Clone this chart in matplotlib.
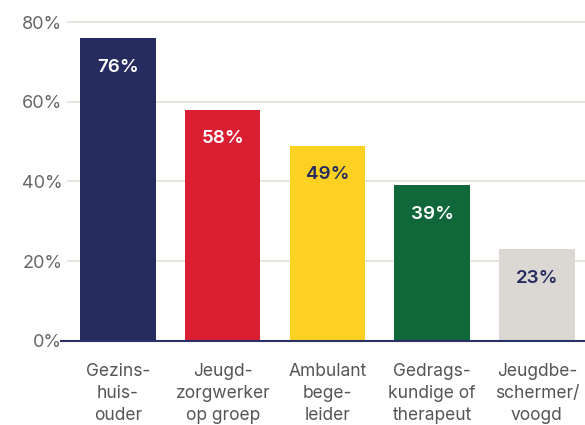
import matplotlib.pyplot as plt

# data
categories = ["Gezins-\nhuis-\nouder", "Jeugd-\nzorgwerker\nop groep", "Ambulant\nbege-\nleider",
              "Gedrags-\nkundige of\ntherapeut", "Jeugdbe-\nschermer/\nvoogd"]
values = [76, 58, 49, 39, 23]
bar_colors = ["#262c5f", "#da1f33", "#fdd121", "#10673a", "#dbd7d2"]
label_colors = ["white", "white", "#262c5f", "white", "#262c5f"]
yticks = [0, 20, 40, 60, 80]

plt.rcParams['font.family'] = ['Inter', 'DejaVu Sans']

fig = plt.figure(figsize=(5.85, 4.25), dpi=100)
ax = fig.add_axes([0.116, 0.198, 0.884, 0.75])

x = range(len(categories))
bars = ax.bar(x, values, width=0.72, color=bar_colors, zorder=2)

for b, v, c in zip(bars, values, label_colors):
    ax.annotate(f"{v}%", (b.get_x() + b.get_width() / 2, v), xytext=(0, -21),
                textcoords="offset points", ha="center", va="center",
                fontsize=13.5, fontweight="semibold", color=c, zorder=3)

ax.set_ylim(0, 80)
ax.set_xlim(-0.48, 4.46)
ax.set_yticks(yticks)
ax.set_yticklabels([f"{t}%" for t in yticks])
ax.set_xticks(list(x))
ax.set_xticklabels(categories, fontsize=12.5, color="#555555", linespacing=1.4)
ax.tick_params(axis="y", length=0, pad=4, labelsize=13, labelcolor="#666666")
ax.tick_params(axis="x", length=0, pad=16)

for t in yticks[1:]:
    ax.axhline(t, color="#e3ded9", lw=1.2, zorder=1, clip_on=False)

# baseline starts a little left of the grid
ax.axhline(0, xmin=-0.013, xmax=1, color="#2b3066", lw=1.5, zorder=3, clip_on=False)

for s in ["top", "right", "left", "bottom"]:
    ax.spines[s].set_visible(False)

fig.savefig("out.png", dpi=100)
